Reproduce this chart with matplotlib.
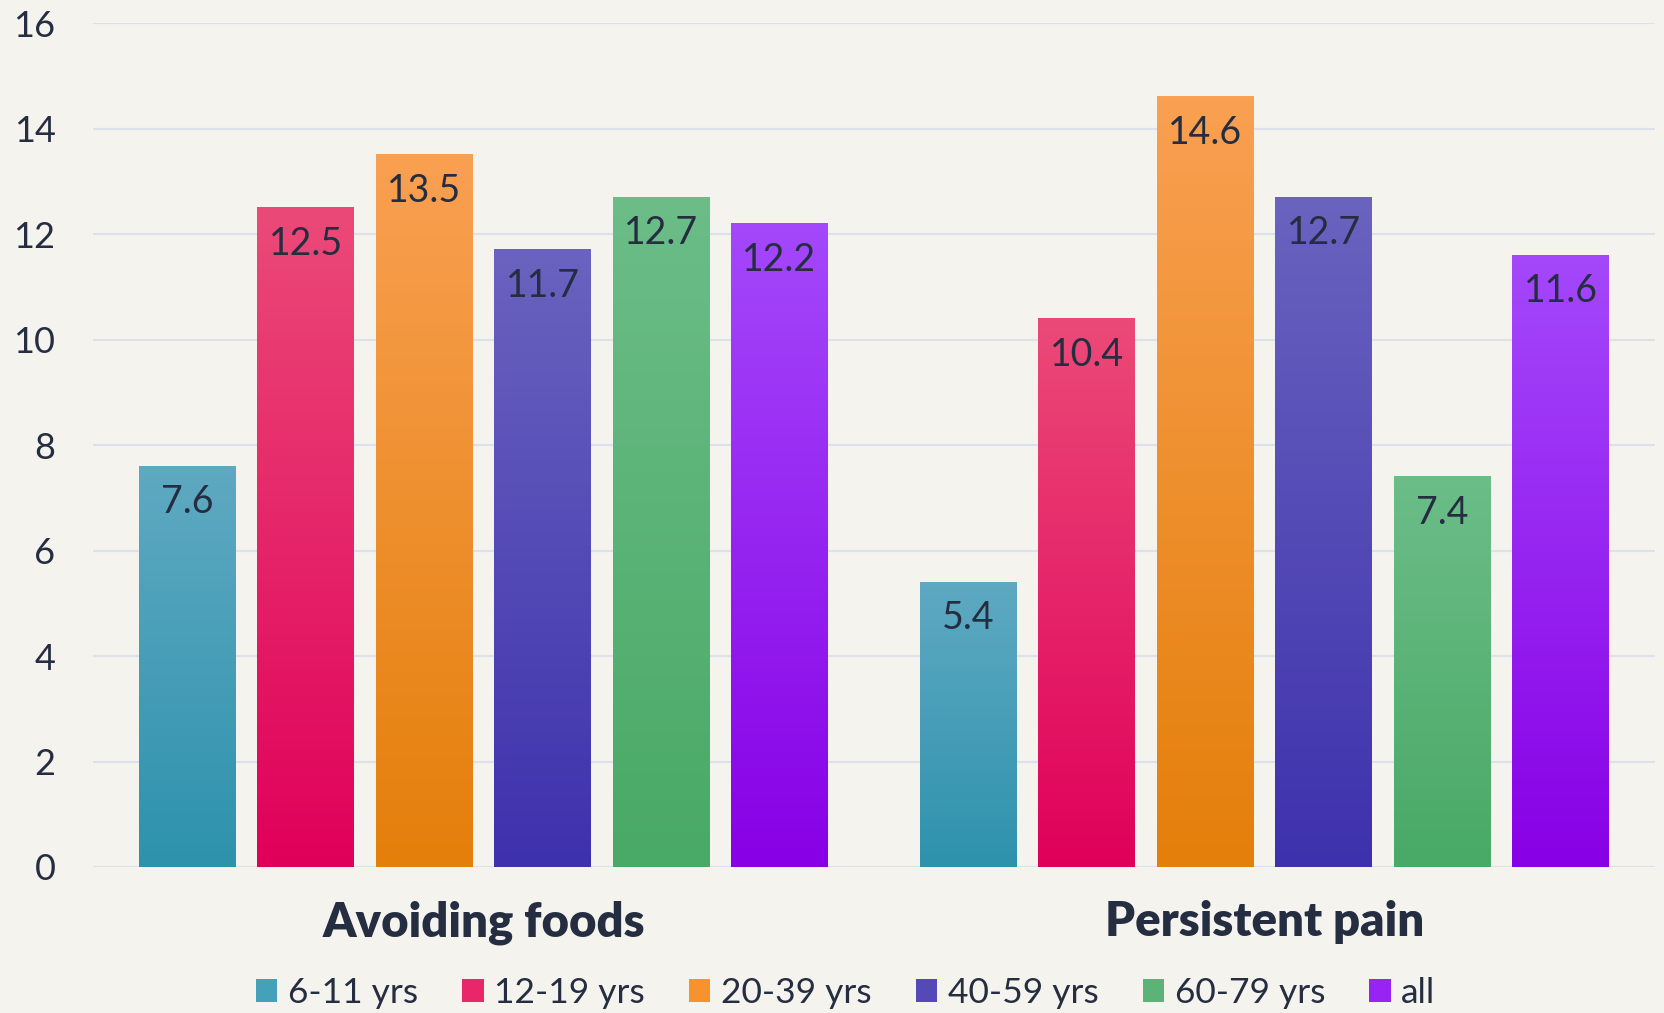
import numpy as np
import matplotlib.pyplot as plt
from matplotlib.colors import LinearSegmentedColormap

plt.rcParams['font.family'] = ['Lato', 'DejaVu Sans']

# dados
categorias = ["Avoiding foods", "Persistent pain"]
faixas = ["6-11 yrs", "12-19 yrs", "20-39 yrs", "40-59 yrs", "60-79 yrs", "all"]
valores_6_11 = [7.6, 5.4]
valores_12_19 = [12.5, 10.4]
valores_20_39 = [13.5, 14.6]
valores_40_59 = [11.7, 12.7]
valores_60_79 = [12.7, 7.4]
valores_all = [12.2, 11.6]
series = [valores_6_11, valores_12_19, valores_20_39, valores_40_59, valores_60_79, valores_all]

# cores (topo claro -> base escura)
cores_topo = ["#5FA9C2", "#EB4A78", "#F9A052", "#6A63BF", "#6CBD88", "#A448FB"]
cores_base = ["#2E92AD", "#E0005A", "#E47F0A", "#3E31AD", "#49A966", "#8800E6"]
cores_meio = ["#45A0BA", "#E9266A", "#F7922E", "#5449B7", "#5CB378", "#9724F2"]

fundo = "#F4F3EE"
texto = "#252D41"
grade = "#DCE1EA"

fig = plt.figure(figsize=(16.65, 10.13), dpi=100, facecolor=fundo)
ax = fig.add_axes([93/1665, 1 - 867/1013, (1655 - 93)/1665, (867 - 23)/1013])
ax.set_facecolor(fundo)

x = np.arange(len(categorias))
largura = 0.124
passo = 0.1516
grad = np.linspace(0, 1, 256).reshape(-1, 1)

for i, (vals, nome) in enumerate(zip(series, faixas)):
    pos = x + (i - 2.5) * passo
    barras = ax.bar(pos, vals, width=largura, color=cores_meio[i], label=nome, zorder=2)
    cmap = LinearSegmentedColormap.from_list(nome, [cores_base[i], cores_topo[i]])
    for b, v in zip(barras, vals):
        x0, w, h = b.get_x(), b.get_width(), b.get_height()
        ax.imshow(grad, extent=[x0, x0 + w, 0, h], origin='lower', cmap=cmap,
                  aspect='auto', zorder=3, interpolation='bicubic')
        ax.annotate(f"{v:.1f}", (b.get_x() + w / 2, h), xytext=(0, -34),
                    textcoords='offset points', ha='center', va='baseline',
                    fontsize=27, color=texto, zorder=4)

ax.set_xlim(-0.5, 1.5)
ax.set_ylim(0, 16)
ax.set_yticks(np.arange(0, 17, 2))
ax.yaxis.grid(True, color=grade, linewidth=1.6, zorder=0)
ax.set_axisbelow(True)
for s in ax.spines.values():
    s.set_visible(False)
ax.tick_params(axis='y', length=0, pad=27, labelsize=26, labelcolor=texto)
ax.set_xticks([])

for xi, cat in zip(x, categorias):
    ax.text(xi, -0.0818, cat, transform=ax.get_xaxis_transform(), ha='center',
            va='baseline', fontsize=34, fontweight='heavy', color=texto)

leg = fig.legend(loc='center', bbox_to_anchor=(0.508, 0.0197), ncol=6, frameon=False,
                 fontsize=25.5, handlelength=0.6, handleheight=0.6, handletextpad=0.3,
                 columnspacing=1.25, borderpad=0, labelcolor=texto)

plt.savefig("out.png", dpi=100, facecolor=fundo)
